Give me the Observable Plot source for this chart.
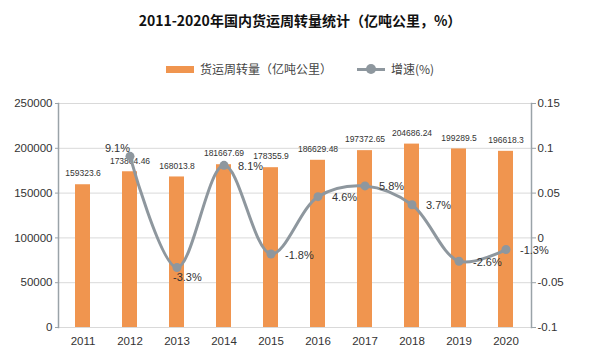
<!DOCTYPE html>
<html>
<head>
<meta charset="utf-8">
<script src="https://cdn.jsdelivr.net/npm/d3@7"></script>
<script src="https://cdn.jsdelivr.net/npm/@observablehq/plot@0.6"></script>
<style>
  html, body { margin: 0; padding: 0; background: #fff; }
  #wrap { width: 600px; height: 358px; position: relative; overflow: hidden; }
  #head { position: relative; width: 600px; height: 90px; }
  #title { position: absolute; left: 0; width: 600px; top: 10px; text-align: center;
    font-family: "Noto Sans CJK SC", sans-serif; font-weight: bold; font-size: 14px; line-height: 20px; color: #111; }
  #legend { position: absolute; left: 0; width: 600px; top: 60px; display: flex; justify-content: center; align-items: center;
    font-family: "Noto Sans CJK SC", sans-serif; font-size: 12px; line-height: 18px; color: #444; }
  .item { display: flex; align-items: center; }
  .sw { width: 28px; height: 7px; background: #f0954f; margin-right: 6px; }
  .ln { position: relative; width: 28px; height: 3px; background: #8e979e; margin-right: 6px; }
  .ln::after { content: ""; position: absolute; left: 9px; top: -3.5px; width: 10px; height: 10px; border-radius: 5px; background: #8e979e; }
</style>
</head>
<body>
<div id="wrap">
  <div id="head">
    <div id="title">2011-2020年国内货运周转量统计（亿吨公里，%）</div>
    <div id="legend">
      <div class="item" style="margin-right:25px"><div class="sw"></div><span>货运周转量（亿吨公里）</span></div>
      <div class="item"><div class="ln"></div><span>增速(%)</span></div>
    </div>
  </div>
  <div id="chart"></div>
</div>
<script>
const years = ["2011","2012","2013","2014","2015","2016","2017","2018","2019","2020"];
const volume = [159323.6, 173804.46, 168013.8, 181667.69, 178355.9, 186629.48, 197372.65, 204686.24, 199289.5, 196618.3];
const growthYears = ["2012","2013","2014","2015","2016","2017","2018","2019","2020"];
const growth = [0.091, -0.033, 0.081, -0.018, 0.046, 0.058, 0.037, -0.026, -0.013];
const leftTicks = [0, 50000, 100000, 150000, 200000, 250000];
const rightTicks = [-0.1, -0.05, 0, 0.05, 0.1, 0.15];
const rightDomain = [-0.1, 0.15];
const leftDomain = [0, 250000];

// label placement keywords for growth labels (style only)
const growthLabelPlacement = ["left","below","right","right","right","right","right","right","right"];

const toLeft = g => (g - rightDomain[0]) / (rightDomain[1] - rightDomain[0]) * (leftDomain[1] - leftDomain[0]) + leftDomain[0];
const toRight = v => (v - leftDomain[0]) / (leftDomain[1] - leftDomain[0]) * (rightDomain[1] - rightDomain[0]) + rightDomain[0];

const bars = years.map((y, i) => ({year: y, v: volume[i]}));
const gdata = growthYears.map((y, i) => ({year: y, g: growth[i], p: growthLabelPlacement[i]}));
const place = {
  left:  {textAnchor: "end", dx: 0, dy: -8},
  below: {textAnchor: "start", dx: -4, dy: 10},
  right: {textAnchor: "start", dx: 14, dy: 1}
};
const fmtPct = g => (g * 100).toFixed(1) + "%";

const axisColor = "#9aa3a8";
const lineColor = "#8e979e";

const chart = Plot.plot({
  width: 600, height: 268,
  marginTop: 13, marginBottom: 31, marginLeft: 58, marginRight: 69,
  style: {fontFamily: "'Liberation Sans', Arial, sans-serif", fontSize: "11.5px", color: "#333", background: "white", overflow: "visible"},
  x: {type: "band", domain: years, paddingInner: 0.68, paddingOuter: 0.34, label: null},
  y: {domain: leftDomain, label: null},
  marks: [
    Plot.gridY(leftTicks, {stroke: "#d9d9d9", strokeOpacity: 1, strokeWidth: 1}),
    Plot.barY(bars, {x: "year", y: "v", fill: "#f0954f"}),
    Plot.text(bars, {x: "year", y: "v", text: d => String(d.v), dy: -11, fontSize: 8.5, fill: "#333",
      fontFamily: "'Liberation Sans Narrow', 'Liberation Sans', sans-serif"}),
    Plot.frame({anchor: "left", stroke: axisColor, strokeWidth: 1.5}),
    Plot.frame({anchor: "right", stroke: axisColor, strokeWidth: 1.5}),
    Plot.axisY(leftTicks, {anchor: "left", tickSize: 3, tickPadding: 3, stroke: axisColor, tickFormat: d => String(d), label: null}),
    Plot.axisY(rightTicks.map(toLeft), {anchor: "right", tickSize: 4, tickPadding: 2, stroke: axisColor,
      tickFormat: d => String(Math.round(toRight(d) * 100) / 100 + 0), label: null}),
    Plot.axisX({tickSize: 0, tickPadding: 9, fontSize: 11.5, label: null}),
    Plot.line(gdata, {x: "year", y: d => toLeft(d.g), curve: "catmull-rom", stroke: lineColor, strokeWidth: 3}),
    Plot.dot(gdata, {x: "year", y: d => toLeft(d.g), r: 4.5, fill: lineColor, stroke: "none"}),
    ...Object.keys(place).map(k => Plot.text(gdata.filter(d => d.p === k), {
      x: "year", y: d => toLeft(d.g), text: d => fmtPct(d.g), fontSize: 11, fill: "#333", ...place[k]
    }))
  ]
});
document.getElementById("chart").appendChild(chart);
</script>
</body>
</html>
